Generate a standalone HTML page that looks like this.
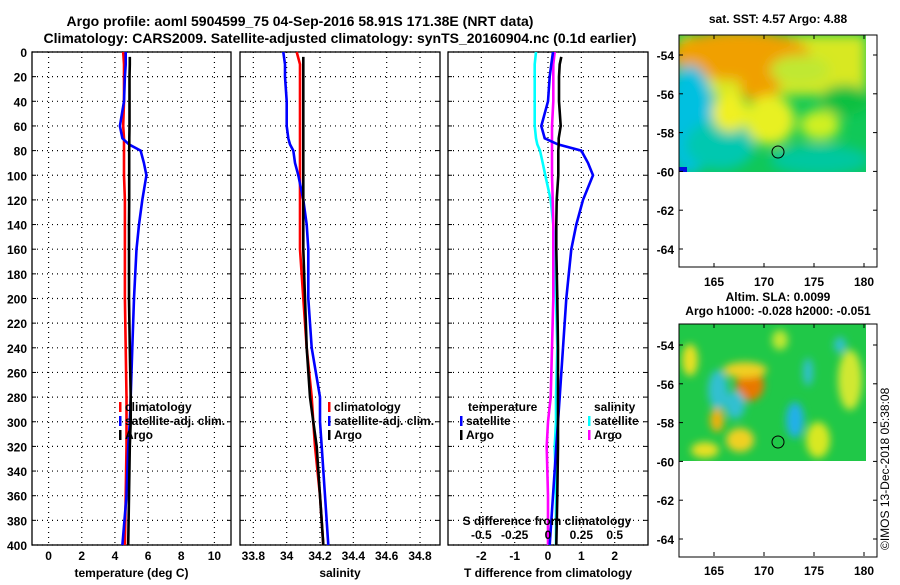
<!DOCTYPE html>
<html><head><meta charset="utf-8"><style>
body{margin:0;background:#fff;width:900px;height:580px;overflow:hidden}
svg text{font-family:"Liberation Sans",sans-serif;font-weight:bold;fill:#000}
</style></head><body>
<svg id="c" width="900" height="580" xmlns="http://www.w3.org/2000/svg">
<defs>
<filter id="bl" x="-50%" y="-50%" width="200%" height="200%"><feGaussianBlur stdDeviation="6"/></filter>
<filter id="bl2" x="-50%" y="-50%" width="200%" height="200%"><feGaussianBlur stdDeviation="4"/></filter>
<clipPath id="cm1"><rect x="679" y="35" width="187" height="137"/></clipPath>
<clipPath id="cm2"><rect x="679" y="324" width="187" height="137"/></clipPath>
</defs>
<text x="300" y="26" font-size="14" text-anchor="middle">Argo profile: aoml 5904599_75 04-Sep-2016 58.91S 171.38E (NRT data)</text>
<text x="340" y="43" font-size="14" text-anchor="middle">Climatology: CARS2009. Satellite-adjusted climatology: synTS_20160904.nc (0.1d earlier)</text>
<g id="maps">
<text x="778" y="23" font-size="12" text-anchor="middle">sat. SST: 4.57 Argo: 4.88</text>
<g clip-path="url(#cm1)">
<rect x="679" y="35" width="187" height="137" fill="#10c858"/>
<g filter="url(#bl)">
<rect x="679" y="35" width="187" height="60" fill="#d8e820"/>
<ellipse cx="740" cy="55" rx="70" ry="25" fill="#f0a000"/>
<ellipse cx="760" cy="85" rx="20" ry="18" fill="#f0a000"/>
<ellipse cx="690" cy="120" rx="25" ry="55" fill="#00c0e0"/>
<ellipse cx="720" cy="145" rx="35" ry="25" fill="#00c8b0"/>
<ellipse cx="730" cy="112" rx="18" ry="20" fill="#f0f020"/>
<ellipse cx="770" cy="120" rx="25" ry="25" fill="#e8f020"/>
<ellipse cx="820" cy="125" rx="20" ry="15" fill="#d0f020"/>
<ellipse cx="820" cy="160" rx="50" ry="15" fill="#00c8a0"/>
<ellipse cx="845" cy="100" rx="25" ry="15" fill="#10c040"/>
<ellipse cx="800" cy="70" rx="30" ry="15" fill="#c0e830"/>
</g>
<rect x="679" y="167" width="8" height="5" fill="#0010e0"/>
</g>
<circle cx="778" cy="152" r="6" fill="none" stroke="#000"/>
<rect x="679" y="35" width="198" height="232" fill="none" stroke="#000"/>
<text x="778" y="301" font-size="12" text-anchor="middle">Altim. SLA: 0.0099</text>
<text x="778" y="315" font-size="12" text-anchor="middle">Argo h1000: -0.028 h2000: -0.051</text>
<g clip-path="url(#cm2)">
<rect x="679" y="324" width="187" height="137" fill="#20c848"/>
<g filter="url(#bl2)">
<ellipse cx="750" cy="385" rx="14" ry="16" fill="#e87800"/>
<ellipse cx="745" cy="370" rx="22" ry="8" fill="#f0d020"/>
<ellipse cx="718" cy="390" rx="10" ry="20" fill="#30c0d0"/>
<ellipse cx="735" cy="405" rx="10" ry="14" fill="#30c0d0"/>
<ellipse cx="717" cy="420" rx="7" ry="12" fill="#f0b010"/>
<ellipse cx="740" cy="440" rx="14" ry="12" fill="#f0d020"/>
<ellipse cx="795" cy="420" rx="9" ry="18" fill="#20b0e8"/>
<ellipse cx="808" cy="372" rx="5" ry="14" fill="#30c0d0"/>
<ellipse cx="818" cy="440" rx="12" ry="18" fill="#d8e820"/>
<ellipse cx="850" cy="380" rx="12" ry="30" fill="#d0e830"/>
<ellipse cx="690" cy="360" rx="8" ry="16" fill="#e8e020"/>
<ellipse cx="705" cy="450" rx="14" ry="8" fill="#e8e020"/>
<ellipse cx="780" cy="340" rx="8" ry="10" fill="#c0e830"/>
<ellipse cx="840" cy="345" rx="6" ry="8" fill="#30c0d0"/>
</g>
</g>
<circle cx="778" cy="442" r="6" fill="none" stroke="#000"/>
<rect x="679" y="324" width="198" height="233" fill="none" stroke="#000"/>
<text transform="translate(889,550) rotate(-90)" font-size="12" style="font-weight:normal">©IMOS 13-Dec-2018 05:38:08</text>
</g>
</svg>
<script>
const NS='http://www.w3.org/2000/svg';
const svg=document.getElementById('c');
// ---- data ----
const depths=[0,10,20,40,60,70,75,80,90,100,120,140,160,200,240,280,300,320,360,400];
const depthTicks=[0,20,40,60,80,100,120,140,160,180,200,220,240,260,280,300,320,340,360,380,400];
const tempClim=[4.5,4.55,4.55,4.55,4.5,4.55,4.55,4.55,4.55,4.55,4.6,4.6,4.6,4.6,4.65,4.7,4.7,4.7,4.65,4.6];
const tempSat=[4.65,4.65,4.6,4.55,4.3,4.45,4.85,5.55,5.75,5.9,5.65,5.45,5.3,5.15,5.05,4.95,4.9,4.8,4.7,4.45];
const tempArgo=[4.9,4.9,4.88,4.88,4.88,4.87,4.87,4.86,4.86,4.86,4.86,4.85,4.85,4.85,4.9,4.95,4.95,4.9,4.85,4.8];
const salClim=[34.06,34.08,34.08,34.08,34.08,34.08,34.08,34.08,34.08,34.08,34.08,34.08,34.08,34.1,34.12,34.15,34.16,34.17,34.2,34.22];
const salSat=[33.98,33.99,33.99,34.0,34.0,34.01,34.02,34.04,34.05,34.07,34.1,34.12,34.13,34.13,34.15,34.2,34.2,34.21,34.23,34.25];
const salArgo=[34.1,34.1,34.1,34.1,34.1,34.1,34.1,34.1,34.1,34.1,34.1,34.1,34.1,34.11,34.12,34.14,34.16,34.18,34.2,34.22];
const tDiffSat=[0.15,0.1,0.05,0,-0.2,-0.1,0.3,1.0,1.2,1.35,1.05,0.85,0.7,0.55,0.45,0.35,0.3,0.25,0.15,0.05];
const tDiffArgo=[0.4,0.35,0.33,0.33,0.38,0.32,0.32,0.31,0.31,0.31,0.26,0.25,0.25,0.28,0.3,0.3,0.3,0.3,0.28,0.25];
const sDiffSat=[-0.09,-0.1,-0.1,-0.1,-0.1,-0.09,-0.08,-0.06,-0.04,-0.02,0.02,0.04,0.05,0.06,0.07,0.06,0.06,0.05,0.06,0.06];
const sDiffArgo=[0.05,0.04,0.04,0.04,0.03,0.03,0.03,0.03,0.03,0.03,0.035,0.04,0.04,0.04,0.03,0.02,0.0,-0.01,0.0,0.0];
const tempTicks=[0,2,4,6,8,10];
const salTicks=[33.8,34,34.2,34.4,34.6,34.8];
const tdTicks=[-2,-1,0,1,2];
const sdTicks=[-0.5,-0.25,0,0.25,0.5];
const latTicks=[-54,-56,-58,-60,-62,-64];
const lonTicks=[165,170,175,180];
// ---- helpers ----
const Y0=52,Y1=545;
const yD=d=>Y0+(Y1-Y0)*d/400;
function el(t,a,p){const e=document.createElementNS(NS,t);for(const k in a)e.setAttribute(k,a[k]);(p||svg).appendChild(e);return e;}
function txt(x,y,s,size,anchor,p){const e=el('text',{x:x,y:y,'font-size':size,'text-anchor':anchor||'middle'},p);e.textContent=s;return e;}
const panels=[
 {x0:32,x1:231,min:-1,max:11,ticks:tempTicks,title:'temperature (deg C)',name:'temperature-panel'},
 {x0:240,x1:440,min:33.72,max:34.92,ticks:salTicks,title:'salinity',name:'salinity-panel'},
 {x0:448,x1:648,min:-3,max:3,ticks:tdTicks,title:'T difference from climatology',name:'difference-panel'}];
panels.forEach((P,i)=>{
 const g=el('g',{});
 
 
 P.sx=v=>P.x0+(P.x1-P.x0)*(v-P.min)/(P.max-P.min);
 depthTicks.forEach(d=>{
  const l=el('line',{x1:P.x0,x2:P.x1,y1:yD(d),y2:yD(d),stroke:'#000','stroke-dasharray':'1,4','stroke-width':1.2},g);
  
  
  el('line',{x1:P.x0,x2:P.x0+4,y1:yD(d),y2:yD(d),stroke:'#000'},g);
  el('line',{x1:P.x1,x2:P.x1-4,y1:yD(d),y2:yD(d),stroke:'#000'},g);
  if(i===0){const t=txt(27,yD(d)+5,String(d),12,'end',g);
   
   }
 });
 P.ticks.forEach(v=>{
  const x=P.sx(v);
  const l=el('line',{x1:x,x2:x,y1:Y0,y2:Y1,stroke:'#000','stroke-dasharray':'1,4','stroke-width':1.2},g);
  
  
  const t=txt(x,560,String(v),12,'middle',g);
  
  
 });
 const f=el('rect',{x:P.x0,y:Y0,width:P.x1-P.x0,height:Y1-Y0,fill:'none',stroke:'#000','stroke-width':1.3},g);
 
 
 const at=txt((P.x0+P.x1)/2,577,P.title,12,'middle',g);
 
 
});
function line(P,vals,col,name,start){
 const pts=[];depths.forEach((d,k)=>{pts.push(P.sx(vals[k]).toFixed(1)+','+yD(d===0?(start||0):d).toFixed(1));});
 const e=el('polyline',{points:pts.join(' '),fill:'none',stroke:col,'stroke-width':2.6});
 
 
}
const [P1,P2,P3]=panels;
line(P1,tempClim,'#f00','temp-climatology-line');
line(P1,tempSat,'#00f','temp-satellite-line');
line(P1,tempArgo,'#000','temp-argo-line',4);
line(P2,salClim,'#f00','sal-climatology-line');
line(P2,salSat,'#00f','sal-satellite-line');
line(P2,salArgo,'#000','sal-argo-line',4);
const P3s={sx:v=>P3.sx(v*4)};
line(P3s,sDiffSat,'#0ff','sdiff-satellite-line');
line(P3s,sDiffArgo,'#f0f','sdiff-argo-line');
line(P3,tDiffSat,'#00f','tdiff-satellite-line');
line(P3,tDiffArgo,'#000','tdiff-argo-line',4);
// secondary S axis labels
const st=txt(547,525,'S difference from climatology',12,'middle');


sdTicks.forEach(v=>{const t=txt(P3.sx(v*4),539,String(v),12,'middle');
 
 });
// legends
function leg(x,y,col,label,name){
 const m=el('rect',{x:x,y:y-9,width:2.5,height:10,fill:col});
 
 
 const t=txt(x+6,y,label,12,'start');
 
 
}
[[P1,119],[P2,328]].forEach(([P,x])=>{
 leg(x,411,'#f00','climatology','legend-climatology');
 leg(x,425,'#00f','satellite-adj. clim.','legend-satellite');
 leg(x,439,'#000','Argo','legend-argo');
});
const h1=txt(468,411,'temperature',12,'start');


leg(460,425,'#00f','satellite','legend-temp-satellite');
leg(460,439,'#000','Argo','legend-temp-argo');
const h2=txt(594,411,'salinity',12,'start');


leg(588,425,'#0ff','satellite','legend-sal-satellite');
leg(588,439,'#f0f','Argo','legend-sal-argo');
// map axes
[[35,55],[324,345]].forEach(([top,y54],mi)=>{
 latTicks.forEach(l=>{const y=y54+19.4*(-54-l);
  el('line',{x1:679,x2:683,y1:y,y2:y,stroke:'#000'});
  el('line',{x1:877,x2:873,y1:y,y2:y,stroke:'#000'});
  const t=txt(674,y+5,String(l),12,'end');
  
  });
 lonTicks.forEach(l=>{const x=714+10*(l-165);
  el('line',{x1:x,x2:x,y1:top,y2:top+4,stroke:'#000'});
  el('line',{x1:x,x2:x,y1:top+232,y2:top+228,stroke:'#000'});
  const t=txt(x,top+251,String(l),12,'middle');
  
  });
});
</script>
</body></html>
